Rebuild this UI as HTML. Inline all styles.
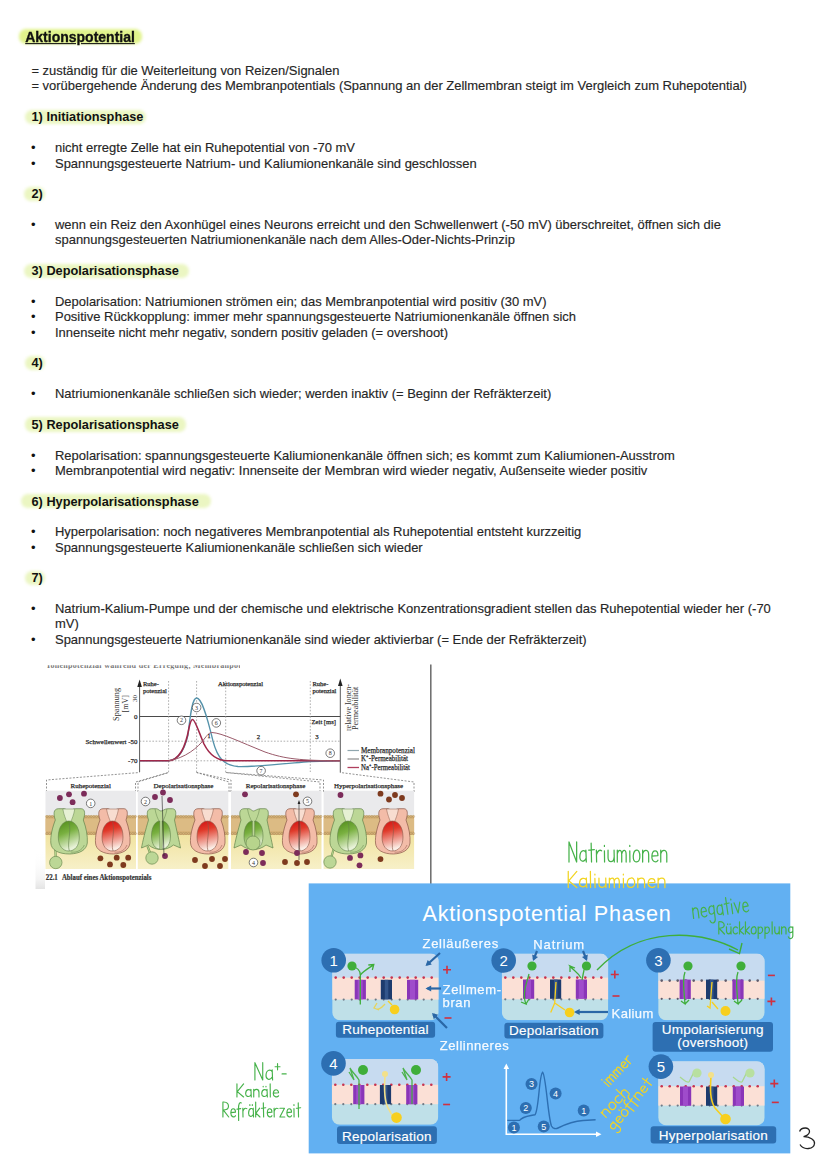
<!DOCTYPE html>
<html><head><meta charset="utf-8">
<style>
html,body{margin:0;padding:0;background:#fff;}
body{width:828px;height:1171px;position:relative;overflow:hidden;font-family:"Liberation Sans",sans-serif;}
.t{position:absolute;left:55px;font-size:12.97px;line-height:16px;color:#262626;white-space:nowrap;-webkit-text-stroke:0.15px #262626;}
.bu{position:absolute;left:31px;font-size:12.97px;line-height:16px;color:#111;}
.h{position:absolute;left:31.5px;font-size:12.75px;line-height:16px;font-weight:bold;color:#111;white-space:nowrap;margin-top:0.5px;}
.hl{position:absolute;height:14.3px;background:#ebf6c2;border-radius:7px;filter:blur(1.6px);}
svg{position:absolute;left:0;top:0;}
</style></head><body>
<div class="hl" style="left:19px;top:29px;width:123px;height:14.5px;background:#e1f38c;"></div>
<div style="position:absolute;left:25.2px;top:27.9px;font-size:14px;line-height:18px;font-weight:bold;color:#111;text-decoration:underline;text-underline-offset:1px;transform:scaleY(1.07);transform-origin:0 13.85px;-webkit-text-stroke:0.3px #111;">Aktionspotential</div>
<div class="t" style="left:31.4px;top:62.71px">= zuständig für die Weiterleitung von Reizen/Signalen</div>
<div class="t" style="left:31.4px;top:78.11px">= vorübergehende Änderung des Membranpotentials (Spannung an der Zellmembran steigt im Vergleich zum Ruhepotential)</div>
<div class="hl" style="top:110.20px;left:25px;width:121px"></div><div class="h" style="top:108.58px">1) Initiationsphase</div>
<div class="bu" style="top:140.33px">&bull;</div>
<div class="t" style="top:140.33px">nicht erregte Zelle hat ein Ruhepotential von -70 mV</div>
<div class="bu" style="top:155.69px">&bull;</div>
<div class="t" style="top:155.69px">Spannungsgesteuerte Natrium- und Kaliumionenkanäle sind geschlossen</div>
<div class="hl" style="top:187.00px;left:24px;width:21px"></div><div class="h" style="top:185.48px">2)</div>
<div class="bu" style="top:217.13px">&bull;</div>
<div class="t" style="top:217.13px">wenn ein Reiz den Axonhügel eines Neurons erreicht und den Schwellenwert (-50 mV) überschreitet, öffnen sich die</div>
<div class="t" style="top:232.49px">spannungsgesteuerten Natriumionenkanäle nach dem Alles-Oder-Nichts-Prinzip</div>
<div class="hl" style="top:263.80px;left:24px;width:165px"></div><div class="h" style="top:262.38px">3) Depolarisationsphase</div>
<div class="bu" style="top:293.93px">&bull;</div>
<div class="t" style="top:293.93px">Depolarisation: Natriumionen strömen ein; das Membranpotential wird positiv (30 mV)</div>
<div class="bu" style="top:309.29px">&bull;</div>
<div class="t" style="top:309.29px">Positive Rückkopplung: immer mehr spannungsgesteuerte Natriumionenkanäle öffnen sich</div>
<div class="bu" style="top:324.65px">&bull;</div>
<div class="t" style="top:324.65px">Innenseite nicht mehr negativ, sondern positiv geladen (= overshoot)</div>
<div class="hl" style="top:355.96px;left:25px;width:20px"></div><div class="h" style="top:354.66px">4)</div>
<div class="bu" style="top:386.09px">&bull;</div>
<div class="t" style="top:386.09px">Natriumionenkanäle schließen sich wieder; werden inaktiv (= Beginn der Refräkterzeit)</div>
<div class="hl" style="top:417.40px;left:25px;width:161px"></div><div class="h" style="top:416.18px">5) Repolarisationsphase</div>
<div class="bu" style="top:447.53px">&bull;</div>
<div class="t" style="top:447.53px">Repolarisation: spannungsgesteuerte Kaliumionenkanäle öffnen sich; es kommt zum Kaliumionen-Ausstrom</div>
<div class="bu" style="top:462.89px">&bull;</div>
<div class="t" style="top:462.89px">Membranpotential wird negativ: Innenseite der Membran wird wieder negativ, Außenseite wieder positiv</div>
<div class="hl" style="top:494.20px;left:21px;width:190px"></div><div class="h" style="top:493.08px">6) Hyperpolarisationsphase</div>
<div class="bu" style="top:524.33px">&bull;</div>
<div class="t" style="top:524.33px">Hyperpolarisation: noch negativeres Membranpotential als Ruhepotential entsteht kurzzeitig</div>
<div class="bu" style="top:539.69px">&bull;</div>
<div class="t" style="top:539.69px">Spannungsgesteuerte Kaliumionenkanäle schließen sich wieder</div>
<div class="hl" style="top:571.00px;left:25px;width:20px"></div><div class="h" style="top:569.98px">7)</div>
<div class="bu" style="top:601.13px">&bull;</div>
<div class="t" style="top:601.13px">Natrium-Kalium-Pumpe und der chemische und elektrische Konzentrationsgradient stellen das Ruhepotential wieder her (-70</div>
<div class="t" style="top:616.49px">mV)</div>
<div class="bu" style="top:631.85px">&bull;</div>
<div class="t" style="top:631.85px">Spannungsgesteuerte Natriumionenkanäle sind wieder aktivierbar (= Ende der Refräkterzeit)</div>
<svg width="828" height="1171" viewBox="0 0 828 1171">
<defs>
<clipPath id="clipTop"><rect x="40" y="665.3" width="200" height="4"/></clipPath>
<linearGradient id="gGreen" x1="0" y1="0" x2="0.3" y2="1"><stop offset="0" stop-color="#4e8a18"/><stop offset="0.45" stop-color="#79b040"/><stop offset="1" stop-color="#e8f2d8"/></linearGradient>
<linearGradient id="gRed" x1="0" y1="0" x2="0.2" y2="1"><stop offset="0.05" stop-color="#d41414"/><stop offset="0.35" stop-color="#e03a2a"/><stop offset="1" stop-color="#fbeee6"/></linearGradient>
<linearGradient id="gShade" x1="0" y1="0" x2="0" y2="1"><stop offset="0" stop-color="#fff" stop-opacity="0"/><stop offset="0.75" stop-color="#f4f4f4"/><stop offset="1" stop-color="#e4e4e4"/></linearGradient>
<linearGradient id="gYel" x1="0" y1="0" x2="0" y2="1"><stop offset="0" stop-color="#f1e3a0"/><stop offset="1" stop-color="#f7f0c8"/></linearGradient>
</defs>
<rect x="35.5" y="850" width="9.5" height="39" fill="url(#gShade)"/>
<g clip-path="url(#clipTop)"><text x="47" y="668" font-size="8" fill="#777" font-family="Liberation Serif" font-weight="bold" letter-spacing="0.3">Ionenpotenzial während der Erregung,  Membranpotenzial</text></g>
<line x1="139.6" y1="684" x2="139.6" y2="772" stroke="#5a5a5a" stroke-width="1"/>
<path d="M137.3 687 L139.6 679.5 L141.9 687 Z" fill="#222"/>
<line x1="340.3" y1="683" x2="340.3" y2="772.6" stroke="#5a5a5a" stroke-width="1"/>
<path d="M338 686 L340.3 678.5 L342.6 686 Z" fill="#222"/>
<line x1="139.6" y1="716.5" x2="340.3" y2="716.5" stroke="#4a4a4a" stroke-width="1"/>
<line x1="139.6" y1="741.2" x2="340" y2="741.2" stroke="#9a9a9a" stroke-width="0.8" stroke-dasharray="1.6 1.6"/>
<line x1="139.6" y1="760.8" x2="340" y2="760.8" stroke="#9a9a9a" stroke-width="0.8" stroke-dasharray="1.6 1.6"/>
<line x1="168.6" y1="681" x2="168.6" y2="772" stroke="#9a9a9a" stroke-width="0.8" stroke-dasharray="1.6 1.6"/>
<line x1="196.6" y1="681" x2="196.6" y2="772" stroke="#9a9a9a" stroke-width="0.8" stroke-dasharray="1.6 1.6"/>
<line x1="225.7" y1="681" x2="225.7" y2="772" stroke="#9a9a9a" stroke-width="0.8" stroke-dasharray="1.6 1.6"/>
<line x1="310.3" y1="681" x2="310.3" y2="772" stroke="#9a9a9a" stroke-width="0.8" stroke-dasharray="1.6 1.6"/>
<path d="M46.5 792 L46.5 780 L139.6 772.5 M135.5 792 L135.5 782 L168.6 772.5" stroke="#777" stroke-width="0.8" stroke-dasharray="2 1.5" fill="none"/>
<path d="M138 792 L138 782 L168.6 772.5 M229 792 L229 782 L196.6 772.5" stroke="#777" stroke-width="0.8" stroke-dasharray="2 1.5" fill="none"/>
<path d="M231 792 L231 780 L196.6 772.5 M320 792 L320 782 L225.7 772.5" stroke="#777" stroke-width="0.8" stroke-dasharray="2 1.5" fill="none"/>
<path d="M323.5 792 L323.5 780 L225.7 772.5 M414 792 L414 782 L340.3 772.5" stroke="#777" stroke-width="0.8" stroke-dasharray="2 1.5" fill="none"/>
<path d="M139.6 760.8 L168.6 760.8 C178 760 184 752 188 735 C190.5 712 192.5 698 196.6 698 C201.5 698 206.5 714 213 741 C217.5 758 224 765.5 238 766.5 C255 767 282 764 310 761.5 L340 760.8" fill="none" stroke="#5592aa" stroke-width="1.3"/>
<path d="M139.6 760.8 L168.6 760.8 C180 760 186 745 189 728 C190.5 721 191.5 719.5 192.6 719.5 C195 719.5 198 730 204 744 C210 756 218 760.8 228 760.8 L340 760.8" fill="none" stroke="#a0284a" stroke-width="1.6"/>
<path d="M168.6 760.8 C185 758 198 748 205 738 C208 734 210 732.5 212 732.5 C222 733 240 742 265 752 C285 759 300 760.5 340 760.8" fill="none" stroke="#9a5a6a" stroke-width="1"/>
<text x="143" y="685.5" font-size="6.5" fill="#2a2a2a" stroke="#2a2a2a" stroke-width="0.25" font-family="Liberation Serif" text-anchor="start" >Ruhe-</text>
<text x="143" y="692.5" font-size="6.5" fill="#2a2a2a" stroke="#2a2a2a" stroke-width="0.25" font-family="Liberation Serif" text-anchor="start" >potenzial</text>
<text x="218" y="685.7" font-size="6.6" fill="#2a2a2a" stroke="#2a2a2a" stroke-width="0.25" font-family="Liberation Serif" text-anchor="start" >Aktionspotenzial</text>
<text x="312.5" y="685.5" font-size="6.5" fill="#2a2a2a" stroke="#2a2a2a" stroke-width="0.25" font-family="Liberation Serif" text-anchor="start" >Ruhe-</text>
<text x="312.5" y="692.5" font-size="6.5" fill="#2a2a2a" stroke="#2a2a2a" stroke-width="0.25" font-family="Liberation Serif" text-anchor="start" >potenzial</text>
<text transform="translate(136.5,702) rotate(-90)" font-size="7" fill="#333" font-family="Liberation Serif">30</text>
<text x="137.5" y="719" font-size="7" fill="#2a2a2a" stroke="#2a2a2a" stroke-width="0.25" font-family="Liberation Serif" text-anchor="end" >0</text>
<text x="137.4" y="743.8" font-size="6.9" fill="#2a2a2a" stroke="#2a2a2a" stroke-width="0.25" font-family="Liberation Serif" text-anchor="end" >Schwellenwert -50</text>
<text x="137.4" y="763.2" font-size="7" fill="#2a2a2a" stroke="#2a2a2a" stroke-width="0.25" font-family="Liberation Serif" text-anchor="end" >-70</text>
<text transform="translate(119,720.9) rotate(-90)" font-size="8" fill="#333" font-family="Liberation Serif" textLength="33" lengthAdjust="spacingAndGlyphs">Spannung</text>
<text transform="translate(127.5,712.4) rotate(-90)" font-size="8" fill="#333" font-family="Liberation Serif">[mV]</text>
<text transform="translate(350.5,731.1) rotate(-90)" font-size="8" fill="#333" font-family="Liberation Serif" textLength="47" lengthAdjust="spacingAndGlyphs">relative Ionen-</text>
<text transform="translate(357.7,730.1) rotate(-90)" font-size="8" fill="#333" font-family="Liberation Serif" textLength="43.4" lengthAdjust="spacingAndGlyphs">Permeabilität</text>
<text x="311.6" y="724" font-size="6.6" fill="#2a2a2a" stroke="#2a2a2a" stroke-width="0.25" font-family="Liberation Serif" text-anchor="start" >Zeit [ms]</text>
<text x="258.4" y="738.5" font-size="6.8" fill="#2a2a2a" stroke="#2a2a2a" stroke-width="0.25" font-family="Liberation Serif" text-anchor="middle" >2</text>
<text x="316.9" y="738.5" font-size="6.8" fill="#2a2a2a" stroke="#2a2a2a" stroke-width="0.25" font-family="Liberation Serif" text-anchor="middle" >3</text>
<line x1="347.5" y1="750.5" x2="359" y2="750.5" stroke="#8fa6ae" stroke-width="1.2"/>
<line x1="347.5" y1="759" x2="359" y2="759" stroke="#808080" stroke-width="1.1"/>
<line x1="347.5" y1="767.5" x2="359" y2="767.5" stroke="#b0405e" stroke-width="1.3"/>
<text x="361" y="752.8" font-size="8" fill="#2a2a2a" stroke="#2a2a2a" stroke-width="0.25" font-family="Liberation Serif" text-anchor="start" textLength="54" lengthAdjust="spacingAndGlyphs">Membranpotenzial</text>
<text x="361" y="761.3" font-size="8" fill="#2a2a2a" stroke="#2a2a2a" stroke-width="0.25" font-family="Liberation Serif" text-anchor="start" textLength="47" lengthAdjust="spacingAndGlyphs">K⁺-Permeabilität</text>
<text x="361" y="769.8" font-size="8" fill="#2a2a2a" stroke="#2a2a2a" stroke-width="0.25" font-family="Liberation Serif" text-anchor="start" textLength="49" lengthAdjust="spacingAndGlyphs">Na⁺-Permeabilität</text>
<circle cx="181.5" cy="720.3" r="4.3" fill="#fff" stroke="#444" stroke-width="0.7"/>
<text x="181.5" y="722.4" font-size="6" fill="#333" font-family="Liberation Serif" text-anchor="middle">2</text>
<circle cx="196.6" cy="707.5" r="4.3" fill="#fff" stroke="#444" stroke-width="0.7"/>
<text x="196.6" y="709.6" font-size="6" fill="#333" font-family="Liberation Serif" text-anchor="middle">3</text>
<circle cx="216.3" cy="722.9" r="4.3" fill="#fff" stroke="#444" stroke-width="0.7"/>
<text x="216.3" y="725.0" font-size="6" fill="#333" font-family="Liberation Serif" text-anchor="middle">6</text>
<circle cx="330.2" cy="753.2" r="4.3" fill="#fff" stroke="#444" stroke-width="0.7"/>
<text x="330.2" y="755.3000000000001" font-size="6" fill="#333" font-family="Liberation Serif" text-anchor="middle">8</text>
<circle cx="261.1" cy="770.7" r="4.3" fill="#fff" stroke="#444" stroke-width="0.7"/>
<text x="261.1" y="772.8000000000001" font-size="6" fill="#333" font-family="Liberation Serif" text-anchor="middle">7</text>
<text x="209" y="738" font-size="6" fill="#2a2a2a" stroke="#2a2a2a" stroke-width="0.25" font-family="Liberation Serif" text-anchor="middle" >1</text>
<text x="90.7" y="788.3" font-size="7" fill="#2a2a2a" stroke="#2a2a2a" stroke-width="0.25" font-family="Liberation Serif" text-anchor="middle" >Ruhepotenzial</text>
<text x="183.5" y="788.3" font-size="7" fill="#2a2a2a" stroke="#2a2a2a" stroke-width="0.25" font-family="Liberation Serif" text-anchor="middle" >Depolarisationsphase</text>
<text x="275.5" y="788.3" font-size="7" fill="#2a2a2a" stroke="#2a2a2a" stroke-width="0.25" font-family="Liberation Serif" text-anchor="middle" >Repolarisationsphase</text>
<text x="368.5" y="788.3" font-size="7" fill="#2a2a2a" stroke="#2a2a2a" stroke-width="0.25" font-family="Liberation Serif" text-anchor="middle" >Hyperpolarisationsphase</text>
<text x="45.8" y="879.5" font-size="7.2" fill="#333" stroke="#333" stroke-width="0.2" font-weight="bold" font-family="Liberation Serif" textLength="12" lengthAdjust="spacingAndGlyphs">22.1</text>
<text x="61.9" y="879.5" font-size="7.2" fill="#333" stroke="#333" stroke-width="0.2" font-weight="bold" font-family="Liberation Serif" textLength="89.5" lengthAdjust="spacingAndGlyphs">Ablauf eines Aktionspotenzials</text>
<rect x="45.5" y="790.7" width="90.5" height="25" fill="#eaeaec"/>
<rect x="45.5" y="834.5" width="90.5" height="34.5" fill="url(#gYel)"/>
<rect x="45.5" y="815.5" width="90.5" height="19.5" fill="#d8b378"/>
<g fill="none" stroke="#a88a58" stroke-width="0.5"><circle cx="47.0" cy="816.5" r="1.1"/><circle cx="47.0" cy="833.5" r="1.1"/><circle cx="49.6" cy="816.5" r="1.1"/><circle cx="49.6" cy="833.5" r="1.1"/><circle cx="52.2" cy="816.5" r="1.1"/><circle cx="52.2" cy="833.5" r="1.1"/><circle cx="54.8" cy="816.5" r="1.1"/><circle cx="54.8" cy="833.5" r="1.1"/><circle cx="57.4" cy="816.5" r="1.1"/><circle cx="57.4" cy="833.5" r="1.1"/><circle cx="60.0" cy="816.5" r="1.1"/><circle cx="60.0" cy="833.5" r="1.1"/><circle cx="62.6" cy="816.5" r="1.1"/><circle cx="62.6" cy="833.5" r="1.1"/><circle cx="65.2" cy="816.5" r="1.1"/><circle cx="65.2" cy="833.5" r="1.1"/><circle cx="67.8" cy="816.5" r="1.1"/><circle cx="67.8" cy="833.5" r="1.1"/><circle cx="70.4" cy="816.5" r="1.1"/><circle cx="70.4" cy="833.5" r="1.1"/><circle cx="73.0" cy="816.5" r="1.1"/><circle cx="73.0" cy="833.5" r="1.1"/><circle cx="75.6" cy="816.5" r="1.1"/><circle cx="75.6" cy="833.5" r="1.1"/><circle cx="78.2" cy="816.5" r="1.1"/><circle cx="78.2" cy="833.5" r="1.1"/><circle cx="80.8" cy="816.5" r="1.1"/><circle cx="80.8" cy="833.5" r="1.1"/><circle cx="83.4" cy="816.5" r="1.1"/><circle cx="83.4" cy="833.5" r="1.1"/><circle cx="86.0" cy="816.5" r="1.1"/><circle cx="86.0" cy="833.5" r="1.1"/><circle cx="88.6" cy="816.5" r="1.1"/><circle cx="88.6" cy="833.5" r="1.1"/><circle cx="91.2" cy="816.5" r="1.1"/><circle cx="91.2" cy="833.5" r="1.1"/><circle cx="93.8" cy="816.5" r="1.1"/><circle cx="93.8" cy="833.5" r="1.1"/><circle cx="96.4" cy="816.5" r="1.1"/><circle cx="96.4" cy="833.5" r="1.1"/><circle cx="99.0" cy="816.5" r="1.1"/><circle cx="99.0" cy="833.5" r="1.1"/><circle cx="101.6" cy="816.5" r="1.1"/><circle cx="101.6" cy="833.5" r="1.1"/><circle cx="104.2" cy="816.5" r="1.1"/><circle cx="104.2" cy="833.5" r="1.1"/><circle cx="106.8" cy="816.5" r="1.1"/><circle cx="106.8" cy="833.5" r="1.1"/><circle cx="109.4" cy="816.5" r="1.1"/><circle cx="109.4" cy="833.5" r="1.1"/><circle cx="112.0" cy="816.5" r="1.1"/><circle cx="112.0" cy="833.5" r="1.1"/><circle cx="114.6" cy="816.5" r="1.1"/><circle cx="114.6" cy="833.5" r="1.1"/><circle cx="117.2" cy="816.5" r="1.1"/><circle cx="117.2" cy="833.5" r="1.1"/><circle cx="119.8" cy="816.5" r="1.1"/><circle cx="119.8" cy="833.5" r="1.1"/><circle cx="122.4" cy="816.5" r="1.1"/><circle cx="122.4" cy="833.5" r="1.1"/><circle cx="125.0" cy="816.5" r="1.1"/><circle cx="125.0" cy="833.5" r="1.1"/><circle cx="127.6" cy="816.5" r="1.1"/><circle cx="127.6" cy="833.5" r="1.1"/><circle cx="130.2" cy="816.5" r="1.1"/><circle cx="130.2" cy="833.5" r="1.1"/><circle cx="132.8" cy="816.5" r="1.1"/><circle cx="132.8" cy="833.5" r="1.1"/><circle cx="135.4" cy="816.5" r="1.1"/><circle cx="135.4" cy="833.5" r="1.1"/></g>
<rect x="45.5" y="819" width="90.5" height="12" fill="#dfc08c" opacity="0.6"/>
<rect x="137.8" y="790.7" width="90.5" height="25" fill="#eaeaec"/>
<rect x="137.8" y="834.5" width="90.5" height="34.5" fill="url(#gYel)"/>
<rect x="137.8" y="815.5" width="90.5" height="19.5" fill="#d8b378"/>
<g fill="none" stroke="#a88a58" stroke-width="0.5"><circle cx="139.3" cy="816.5" r="1.1"/><circle cx="139.3" cy="833.5" r="1.1"/><circle cx="141.9" cy="816.5" r="1.1"/><circle cx="141.9" cy="833.5" r="1.1"/><circle cx="144.5" cy="816.5" r="1.1"/><circle cx="144.5" cy="833.5" r="1.1"/><circle cx="147.1" cy="816.5" r="1.1"/><circle cx="147.1" cy="833.5" r="1.1"/><circle cx="149.7" cy="816.5" r="1.1"/><circle cx="149.7" cy="833.5" r="1.1"/><circle cx="152.3" cy="816.5" r="1.1"/><circle cx="152.3" cy="833.5" r="1.1"/><circle cx="154.9" cy="816.5" r="1.1"/><circle cx="154.9" cy="833.5" r="1.1"/><circle cx="157.5" cy="816.5" r="1.1"/><circle cx="157.5" cy="833.5" r="1.1"/><circle cx="160.1" cy="816.5" r="1.1"/><circle cx="160.1" cy="833.5" r="1.1"/><circle cx="162.7" cy="816.5" r="1.1"/><circle cx="162.7" cy="833.5" r="1.1"/><circle cx="165.3" cy="816.5" r="1.1"/><circle cx="165.3" cy="833.5" r="1.1"/><circle cx="167.9" cy="816.5" r="1.1"/><circle cx="167.9" cy="833.5" r="1.1"/><circle cx="170.5" cy="816.5" r="1.1"/><circle cx="170.5" cy="833.5" r="1.1"/><circle cx="173.1" cy="816.5" r="1.1"/><circle cx="173.1" cy="833.5" r="1.1"/><circle cx="175.7" cy="816.5" r="1.1"/><circle cx="175.7" cy="833.5" r="1.1"/><circle cx="178.3" cy="816.5" r="1.1"/><circle cx="178.3" cy="833.5" r="1.1"/><circle cx="180.9" cy="816.5" r="1.1"/><circle cx="180.9" cy="833.5" r="1.1"/><circle cx="183.5" cy="816.5" r="1.1"/><circle cx="183.5" cy="833.5" r="1.1"/><circle cx="186.1" cy="816.5" r="1.1"/><circle cx="186.1" cy="833.5" r="1.1"/><circle cx="188.7" cy="816.5" r="1.1"/><circle cx="188.7" cy="833.5" r="1.1"/><circle cx="191.3" cy="816.5" r="1.1"/><circle cx="191.3" cy="833.5" r="1.1"/><circle cx="193.9" cy="816.5" r="1.1"/><circle cx="193.9" cy="833.5" r="1.1"/><circle cx="196.5" cy="816.5" r="1.1"/><circle cx="196.5" cy="833.5" r="1.1"/><circle cx="199.1" cy="816.5" r="1.1"/><circle cx="199.1" cy="833.5" r="1.1"/><circle cx="201.7" cy="816.5" r="1.1"/><circle cx="201.7" cy="833.5" r="1.1"/><circle cx="204.3" cy="816.5" r="1.1"/><circle cx="204.3" cy="833.5" r="1.1"/><circle cx="206.9" cy="816.5" r="1.1"/><circle cx="206.9" cy="833.5" r="1.1"/><circle cx="209.5" cy="816.5" r="1.1"/><circle cx="209.5" cy="833.5" r="1.1"/><circle cx="212.1" cy="816.5" r="1.1"/><circle cx="212.1" cy="833.5" r="1.1"/><circle cx="214.7" cy="816.5" r="1.1"/><circle cx="214.7" cy="833.5" r="1.1"/><circle cx="217.3" cy="816.5" r="1.1"/><circle cx="217.3" cy="833.5" r="1.1"/><circle cx="219.9" cy="816.5" r="1.1"/><circle cx="219.9" cy="833.5" r="1.1"/><circle cx="222.5" cy="816.5" r="1.1"/><circle cx="222.5" cy="833.5" r="1.1"/><circle cx="225.1" cy="816.5" r="1.1"/><circle cx="225.1" cy="833.5" r="1.1"/><circle cx="227.7" cy="816.5" r="1.1"/><circle cx="227.7" cy="833.5" r="1.1"/></g>
<rect x="137.8" y="819" width="90.5" height="12" fill="#dfc08c" opacity="0.6"/>
<rect x="231" y="790.7" width="90.5" height="25" fill="#eaeaec"/>
<rect x="231" y="834.5" width="90.5" height="34.5" fill="url(#gYel)"/>
<rect x="231" y="815.5" width="90.5" height="19.5" fill="#d8b378"/>
<g fill="none" stroke="#a88a58" stroke-width="0.5"><circle cx="232.5" cy="816.5" r="1.1"/><circle cx="232.5" cy="833.5" r="1.1"/><circle cx="235.1" cy="816.5" r="1.1"/><circle cx="235.1" cy="833.5" r="1.1"/><circle cx="237.7" cy="816.5" r="1.1"/><circle cx="237.7" cy="833.5" r="1.1"/><circle cx="240.3" cy="816.5" r="1.1"/><circle cx="240.3" cy="833.5" r="1.1"/><circle cx="242.9" cy="816.5" r="1.1"/><circle cx="242.9" cy="833.5" r="1.1"/><circle cx="245.5" cy="816.5" r="1.1"/><circle cx="245.5" cy="833.5" r="1.1"/><circle cx="248.1" cy="816.5" r="1.1"/><circle cx="248.1" cy="833.5" r="1.1"/><circle cx="250.7" cy="816.5" r="1.1"/><circle cx="250.7" cy="833.5" r="1.1"/><circle cx="253.3" cy="816.5" r="1.1"/><circle cx="253.3" cy="833.5" r="1.1"/><circle cx="255.9" cy="816.5" r="1.1"/><circle cx="255.9" cy="833.5" r="1.1"/><circle cx="258.5" cy="816.5" r="1.1"/><circle cx="258.5" cy="833.5" r="1.1"/><circle cx="261.1" cy="816.5" r="1.1"/><circle cx="261.1" cy="833.5" r="1.1"/><circle cx="263.7" cy="816.5" r="1.1"/><circle cx="263.7" cy="833.5" r="1.1"/><circle cx="266.3" cy="816.5" r="1.1"/><circle cx="266.3" cy="833.5" r="1.1"/><circle cx="268.9" cy="816.5" r="1.1"/><circle cx="268.9" cy="833.5" r="1.1"/><circle cx="271.5" cy="816.5" r="1.1"/><circle cx="271.5" cy="833.5" r="1.1"/><circle cx="274.1" cy="816.5" r="1.1"/><circle cx="274.1" cy="833.5" r="1.1"/><circle cx="276.7" cy="816.5" r="1.1"/><circle cx="276.7" cy="833.5" r="1.1"/><circle cx="279.3" cy="816.5" r="1.1"/><circle cx="279.3" cy="833.5" r="1.1"/><circle cx="281.9" cy="816.5" r="1.1"/><circle cx="281.9" cy="833.5" r="1.1"/><circle cx="284.5" cy="816.5" r="1.1"/><circle cx="284.5" cy="833.5" r="1.1"/><circle cx="287.1" cy="816.5" r="1.1"/><circle cx="287.1" cy="833.5" r="1.1"/><circle cx="289.7" cy="816.5" r="1.1"/><circle cx="289.7" cy="833.5" r="1.1"/><circle cx="292.3" cy="816.5" r="1.1"/><circle cx="292.3" cy="833.5" r="1.1"/><circle cx="294.9" cy="816.5" r="1.1"/><circle cx="294.9" cy="833.5" r="1.1"/><circle cx="297.5" cy="816.5" r="1.1"/><circle cx="297.5" cy="833.5" r="1.1"/><circle cx="300.1" cy="816.5" r="1.1"/><circle cx="300.1" cy="833.5" r="1.1"/><circle cx="302.7" cy="816.5" r="1.1"/><circle cx="302.7" cy="833.5" r="1.1"/><circle cx="305.3" cy="816.5" r="1.1"/><circle cx="305.3" cy="833.5" r="1.1"/><circle cx="307.9" cy="816.5" r="1.1"/><circle cx="307.9" cy="833.5" r="1.1"/><circle cx="310.5" cy="816.5" r="1.1"/><circle cx="310.5" cy="833.5" r="1.1"/><circle cx="313.1" cy="816.5" r="1.1"/><circle cx="313.1" cy="833.5" r="1.1"/><circle cx="315.7" cy="816.5" r="1.1"/><circle cx="315.7" cy="833.5" r="1.1"/><circle cx="318.3" cy="816.5" r="1.1"/><circle cx="318.3" cy="833.5" r="1.1"/><circle cx="320.9" cy="816.5" r="1.1"/><circle cx="320.9" cy="833.5" r="1.1"/></g>
<rect x="231" y="819" width="90.5" height="12" fill="#dfc08c" opacity="0.6"/>
<rect x="323.6" y="790.7" width="90.5" height="25" fill="#eaeaec"/>
<rect x="323.6" y="834.5" width="90.5" height="34.5" fill="url(#gYel)"/>
<rect x="323.6" y="815.5" width="90.5" height="19.5" fill="#d8b378"/>
<g fill="none" stroke="#a88a58" stroke-width="0.5"><circle cx="325.1" cy="816.5" r="1.1"/><circle cx="325.1" cy="833.5" r="1.1"/><circle cx="327.7" cy="816.5" r="1.1"/><circle cx="327.7" cy="833.5" r="1.1"/><circle cx="330.3" cy="816.5" r="1.1"/><circle cx="330.3" cy="833.5" r="1.1"/><circle cx="332.9" cy="816.5" r="1.1"/><circle cx="332.9" cy="833.5" r="1.1"/><circle cx="335.5" cy="816.5" r="1.1"/><circle cx="335.5" cy="833.5" r="1.1"/><circle cx="338.1" cy="816.5" r="1.1"/><circle cx="338.1" cy="833.5" r="1.1"/><circle cx="340.7" cy="816.5" r="1.1"/><circle cx="340.7" cy="833.5" r="1.1"/><circle cx="343.3" cy="816.5" r="1.1"/><circle cx="343.3" cy="833.5" r="1.1"/><circle cx="345.9" cy="816.5" r="1.1"/><circle cx="345.9" cy="833.5" r="1.1"/><circle cx="348.5" cy="816.5" r="1.1"/><circle cx="348.5" cy="833.5" r="1.1"/><circle cx="351.1" cy="816.5" r="1.1"/><circle cx="351.1" cy="833.5" r="1.1"/><circle cx="353.7" cy="816.5" r="1.1"/><circle cx="353.7" cy="833.5" r="1.1"/><circle cx="356.3" cy="816.5" r="1.1"/><circle cx="356.3" cy="833.5" r="1.1"/><circle cx="358.9" cy="816.5" r="1.1"/><circle cx="358.9" cy="833.5" r="1.1"/><circle cx="361.5" cy="816.5" r="1.1"/><circle cx="361.5" cy="833.5" r="1.1"/><circle cx="364.1" cy="816.5" r="1.1"/><circle cx="364.1" cy="833.5" r="1.1"/><circle cx="366.7" cy="816.5" r="1.1"/><circle cx="366.7" cy="833.5" r="1.1"/><circle cx="369.3" cy="816.5" r="1.1"/><circle cx="369.3" cy="833.5" r="1.1"/><circle cx="371.9" cy="816.5" r="1.1"/><circle cx="371.9" cy="833.5" r="1.1"/><circle cx="374.5" cy="816.5" r="1.1"/><circle cx="374.5" cy="833.5" r="1.1"/><circle cx="377.1" cy="816.5" r="1.1"/><circle cx="377.1" cy="833.5" r="1.1"/><circle cx="379.7" cy="816.5" r="1.1"/><circle cx="379.7" cy="833.5" r="1.1"/><circle cx="382.3" cy="816.5" r="1.1"/><circle cx="382.3" cy="833.5" r="1.1"/><circle cx="384.9" cy="816.5" r="1.1"/><circle cx="384.9" cy="833.5" r="1.1"/><circle cx="387.5" cy="816.5" r="1.1"/><circle cx="387.5" cy="833.5" r="1.1"/><circle cx="390.1" cy="816.5" r="1.1"/><circle cx="390.1" cy="833.5" r="1.1"/><circle cx="392.7" cy="816.5" r="1.1"/><circle cx="392.7" cy="833.5" r="1.1"/><circle cx="395.3" cy="816.5" r="1.1"/><circle cx="395.3" cy="833.5" r="1.1"/><circle cx="397.9" cy="816.5" r="1.1"/><circle cx="397.9" cy="833.5" r="1.1"/><circle cx="400.5" cy="816.5" r="1.1"/><circle cx="400.5" cy="833.5" r="1.1"/><circle cx="403.1" cy="816.5" r="1.1"/><circle cx="403.1" cy="833.5" r="1.1"/><circle cx="405.7" cy="816.5" r="1.1"/><circle cx="405.7" cy="833.5" r="1.1"/><circle cx="408.3" cy="816.5" r="1.1"/><circle cx="408.3" cy="833.5" r="1.1"/><circle cx="410.9" cy="816.5" r="1.1"/><circle cx="410.9" cy="833.5" r="1.1"/><circle cx="413.5" cy="816.5" r="1.1"/><circle cx="413.5" cy="833.5" r="1.1"/></g>
<rect x="323.6" y="819" width="90.5" height="12" fill="#dfc08c" opacity="0.6"/>
<line x1="55.3" y1="846" x2="55.8" y2="862.5" stroke="#7a9a5a" stroke-width="2.2"/><line x1="55.3" y1="846" x2="55.8" y2="862.5" stroke="#b7d48c" stroke-width="1.0"/><circle cx="55.8" cy="862.5" r="6.2" fill="#bcd796" stroke="#6d8c52" stroke-width="0.7"/><path d="M55.3 820 C53.3 814 53.3 809 58.3 808.7 L64.3 808.7 C66.3 809 67.3 811 68.8 811 C70.3 811 72.3 809 75.3 808.7 L81.3 808.7 C85.3 809 85.3 814 83.3 820 C86.3 828 87.8 836 87.3 843 C86.3 850 80.3 853.5 69.8 854 C58.3 854 51.3 850 50.8 843 C50.3 836 52.3 828 55.3 820 Z" fill="#bcd796" stroke="#62824a" stroke-width="0.7"/><path d="M62.8 809 C63.8 815 65.8 819 66.8 822 L70.8 822 C71.8 819 73.8 815 74.8 809 Z" fill="#e6f0d4" stroke="#62824a" stroke-width="0.5"/><path d="M58.3 837 C58.3 826 63.8 821 68.8 821 C73.8 821 79.3 826 79.3 837 C79.3 846 74.8 851 68.8 851 C62.8 851 58.3 846 58.3 837 Z" fill="url(#gGreen)" stroke="#62824a" stroke-width="0.6"/><path d="M68.8 821.5 C71.8 832 66.8 842 69.3 851" stroke="#62824a" stroke-width="0.6" fill="none"/><path d="M70.8 852 C76.8 853 82.3 850 84.3 845" stroke="#62824a" stroke-width="0.5" fill="none"/>
<path d="M100 820 C98 814 98 809 103 808.7 L108.0 808.7 C110.0 809 111.0 811 112.5 811 C114.0 811 116.0 809 119.0 808.7 L124 808.7 C128 809 128 814 126 820 C129 828 130.5 836 130 843 C129 850 123 853.5 113.5 854 C103 854 96 850 95.5 843 C95 836 97 828 100 820 Z" fill="#f3bca8" stroke="#8a5848" stroke-width="0.7"/><path d="M106.5 809 C107.5 815 109.5 819 110.5 822 L114.5 822 C115.5 819 117.5 815 118.5 809 Z" fill="#f8ddd0" stroke="#8a5848" stroke-width="0.5"/><path d="M102.0 837 C102.0 826 107.5 821 112.5 821 C117.5 821 123.0 826 123.0 837 C123.0 846 118.5 851 112.5 851 C106.5 851 102.0 846 102.0 837 Z" fill="url(#gRed)" stroke="#8a5848" stroke-width="0.6"/><path d="M112.5 821.5 C115.5 832 110.5 842 113.0 851" stroke="#8a5848" stroke-width="0.6" fill="none"/><path d="M114.5 852 C120.5 853 125 850 127 845" stroke="#8a5848" stroke-width="0.5" fill="none"/>
<circle cx="59.9" cy="798" r="2.9" fill="#7c2c5a"/><circle cx="69" cy="794.3" r="2.9" fill="#7c2c5a"/><circle cx="72.6" cy="802.2" r="2.9" fill="#7c2c5a"/><circle cx="84" cy="793.7" r="2.9" fill="#7c2c5a"/>
<circle cx="100.4" cy="858.3" r="2.9" fill="#7e3a1e"/><circle cx="116.7" cy="857.7" r="2.9" fill="#7e3a1e"/><circle cx="128.2" cy="857.7" r="2.9" fill="#7e3a1e"/><circle cx="110" cy="864.4" r="2.9" fill="#7e3a1e"/><circle cx="123.3" cy="865" r="2.9" fill="#7e3a1e"/>
<circle cx="90.7" cy="803.4" r="4.3" fill="#fff" stroke="#444" stroke-width="0.7"/>
<text x="90.7" y="805.5" font-size="6" fill="#333" font-family="Liberation Serif" text-anchor="middle">1</text>
<line x1="147.5" y1="846" x2="152" y2="858" stroke="#7a9a5a" stroke-width="2.2"/><line x1="147.5" y1="846" x2="152" y2="858" stroke="#b7d48c" stroke-width="1.0"/><circle cx="152" cy="858" r="6.2" fill="#bcd796" stroke="#6d8c52" stroke-width="0.7"/><path d="M148.5 820 C146.5 814 146.5 809 151.5 808.7 L156.5 808.7 C158.5 809 159.5 811 161.0 811 C162.5 811 164.5 809 167.5 808.7 L172.5 808.7 C176.5 809 176.5 814 174.5 820 C176.5 830 179.5 842 180.5 848 L173.5 845 C166.0 851 156.0 851 148.5 845 L141.5 848 C142.5 842 145.5 830 148.5 820 Z" fill="#bcd796" stroke="#62824a" stroke-width="0.7"/><path d="M151.5 836 C151.5 826 156.0 821 159.8 821 L159.8 849 C155.0 849 151.5 844 151.5 836 Z M170.5 836 C170.5 826 166.0 821 162.2 821 L162.2 849 C167.0 849 170.5 844 170.5 836 Z" fill="url(#gGreen)" stroke="#62824a" stroke-width="0.6"/><path d="M155.0 809 C156.0 815 158.0 819 159.5 822 M167.0 809 C166.0 815 164.0 819 162.5 822" stroke="#62824a" stroke-width="0.5" fill="none"/>
<path d="M195 820 C193 814 193 809 198 808.7 L203.0 808.7 C205.0 809 206.0 811 207.5 811 C209.0 811 211.0 809 214.0 808.7 L219 808.7 C223 809 223 814 221 820 C224 828 225.5 836 225 843 C224 850 218 853.5 208.5 854 C198 854 191 850 190.5 843 C190 836 192 828 195 820 Z" fill="#f3bca8" stroke="#8a5848" stroke-width="0.7"/><path d="M201.5 809 C202.5 815 204.5 819 205.5 822 L209.5 822 C210.5 819 212.5 815 213.5 809 Z" fill="#f8ddd0" stroke="#8a5848" stroke-width="0.5"/><path d="M197.0 837 C197.0 826 202.5 821 207.5 821 C212.5 821 218.0 826 218.0 837 C218.0 846 213.5 851 207.5 851 C201.5 851 197.0 846 197.0 837 Z" fill="url(#gRed)" stroke="#8a5848" stroke-width="0.6"/><path d="M207.5 821.5 C210.5 832 205.5 842 208.0 851" stroke="#8a5848" stroke-width="0.6" fill="none"/><path d="M209.5 852 C215.5 853 220 850 222 845" stroke="#8a5848" stroke-width="0.5" fill="none"/>
<circle cx="155" cy="797" r="2.9" fill="#7c2c5a"/><circle cx="163" cy="792.5" r="2.9" fill="#7c2c5a"/><circle cx="170" cy="800" r="2.9" fill="#7c2c5a"/>
<circle cx="165" cy="856" r="2.9" fill="#7c2c5a"/>
<line x1="162" y1="796" x2="164" y2="856" stroke="#222" stroke-width="0.6"/>
<circle cx="195" cy="860" r="2.9" fill="#7e3a1e"/><circle cx="205" cy="866" r="2.9" fill="#7e3a1e"/><circle cx="212" cy="859" r="2.9" fill="#7e3a1e"/><circle cx="220" cy="866" r="2.9" fill="#7e3a1e"/><circle cx="225" cy="859" r="2.9" fill="#7e3a1e"/>
<circle cx="145.5" cy="801.5" r="4.3" fill="#fff" stroke="#444" stroke-width="0.7"/>
<text x="145.5" y="803.6" font-size="6" fill="#333" font-family="Liberation Serif" text-anchor="middle">2</text>
<path d="M241 820 C239 814 239 809 244 808.7 L249.0 808.7 C251.0 809 252.0 811 253.5 811 C255.0 811 257.0 809 260.0 808.7 L265 808.7 C269 809 269 814 267 820 C269 830 272 842 273 848 L266 845 C258.5 851 248.5 851 241 845 L234 848 C235 842 238 830 241 820 Z" fill="#bcd796" stroke="#62824a" stroke-width="0.7"/><path d="M244.0 836 C244.0 826 248.5 821 252.3 821 L252.3 849 C247.5 849 244.0 844 244.0 836 Z M263.0 836 C263.0 826 258.5 821 254.7 821 L254.7 849 C259.5 849 263.0 844 263.0 836 Z" fill="url(#gGreen)" stroke="#62824a" stroke-width="0.6"/><path d="M247.5 809 C248.5 815 250.5 819 252.0 822 M259.5 809 C258.5 815 256.5 819 255.0 822" stroke="#62824a" stroke-width="0.5" fill="none"/>
<circle cx="253" cy="843" r="7" fill="#b7d48c" stroke="#6d8c52" stroke-width="0.7"/>
<path d="M287 820 C285 814 285 809 290 808.7 L295.0 808.7 C297.0 809 298.0 811 299.5 811 C301.0 811 303.0 809 306.0 808.7 L311 808.7 C315 809 315 814 313 820 C316 828 317.5 836 317 843 C316 850 310 853.5 300.5 854 C290 854 283 850 282.5 843 C282 836 284 828 287 820 Z" fill="#f3bca8" stroke="#8a5848" stroke-width="0.7"/><path d="M293.5 809 C294.5 815 296.5 819 297.5 822 L301.5 822 C302.5 819 304.5 815 305.5 809 Z" fill="#f8ddd0" stroke="#8a5848" stroke-width="0.5"/><path d="M289.0 837 C289.0 826 294.5 821 299.5 821 C304.5 821 310.0 826 310.0 837 C310.0 846 305.5 851 299.5 851 C293.5 851 289.0 846 289.0 837 Z" fill="url(#gRed)" stroke="#8a5848" stroke-width="0.6"/><path d="M299.5 821.5 C302.5 832 297.5 842 300.0 851" stroke="#8a5848" stroke-width="0.6" fill="none"/><path d="M301.5 852 C307.5 853 312 850 314 845" stroke="#8a5848" stroke-width="0.5" fill="none"/>
<circle cx="245" cy="794.3" r="2.9" fill="#7c2c5a"/>
<circle cx="296" cy="794.3" r="2.9" fill="#7e3a1e"/>
<line x1="299" y1="860" x2="299" y2="802" stroke="#222" stroke-width="0.6"/><path d="M297.6 804 L299 800 L300.4 804Z" fill="#222"/>
<circle cx="246" cy="852" r="2.9" fill="#7c2c5a"/><circle cx="262" cy="853" r="2.9" fill="#7c2c5a"/><circle cx="263" cy="863" r="2.9" fill="#7c2c5a"/><circle cx="297" cy="853" r="2.9" fill="#7c2c5a"/>
<circle cx="285" cy="862" r="2.9" fill="#7e3a1e"/><circle cx="297" cy="863" r="2.9" fill="#7e3a1e"/><circle cx="307" cy="862" r="2.9" fill="#7e3a1e"/>
<circle cx="307.5" cy="801.3" r="4.3" fill="#fff" stroke="#444" stroke-width="0.7"/>
<text x="307.5" y="803.4" font-size="6" fill="#333" font-family="Liberation Serif" text-anchor="middle">5</text>
<circle cx="253.5" cy="862.5" r="4.3" fill="#fff" stroke="#444" stroke-width="0.7"/>
<text x="253.5" y="864.6" font-size="6" fill="#333" font-family="Liberation Serif" text-anchor="middle">4</text>
<line x1="334.5" y1="846" x2="330" y2="862" stroke="#7a9a5a" stroke-width="2.2"/><line x1="334.5" y1="846" x2="330" y2="862" stroke="#b7d48c" stroke-width="1.0"/><circle cx="330" cy="862" r="6.2" fill="#bcd796" stroke="#6d8c52" stroke-width="0.7"/><path d="M334.5 820 C332.5 814 332.5 809 337.5 808.7 L343.5 808.7 C345.5 809 346.5 811 348.0 811 C349.5 811 351.5 809 354.5 808.7 L360.5 808.7 C364.5 809 364.5 814 362.5 820 C365.5 828 367.0 836 366.5 843 C365.5 850 359.5 853.5 349.0 854 C337.5 854 330.5 850 330.0 843 C329.5 836 331.5 828 334.5 820 Z" fill="#bcd796" stroke="#62824a" stroke-width="0.7"/><path d="M342.0 809 C343.0 815 345.0 819 346.0 822 L350.0 822 C351.0 819 353.0 815 354.0 809 Z" fill="#e6f0d4" stroke="#62824a" stroke-width="0.5"/><path d="M337.5 837 C337.5 826 343.0 821 348.0 821 C353.0 821 358.5 826 358.5 837 C358.5 846 354.0 851 348.0 851 C342.0 851 337.5 846 337.5 837 Z" fill="url(#gGreen)" stroke="#62824a" stroke-width="0.6"/><path d="M348.0 821.5 C351.0 832 346.0 842 348.5 851" stroke="#62824a" stroke-width="0.6" fill="none"/><path d="M350.0 852 C356.0 853 361.5 850 363.5 845" stroke="#62824a" stroke-width="0.5" fill="none"/>
<path d="M380 820 C378 814 378 809 383 808.7 L388.0 808.7 C390.0 809 391.0 811 392.5 811 C394.0 811 396.0 809 399.0 808.7 L404 808.7 C408 809 408 814 406 820 C409 828 410.5 836 410 843 C409 850 403 853.5 393.5 854 C383 854 376 850 375.5 843 C375 836 377 828 380 820 Z" fill="#f3bca8" stroke="#8a5848" stroke-width="0.7"/><path d="M386.5 809 C387.5 815 389.5 819 390.5 822 L394.5 822 C395.5 819 397.5 815 398.5 809 Z" fill="#f8ddd0" stroke="#8a5848" stroke-width="0.5"/><path d="M382.0 837 C382.0 826 387.5 821 392.5 821 C397.5 821 403.0 826 403.0 837 C403.0 846 398.5 851 392.5 851 C386.5 851 382.0 846 382.0 837 Z" fill="url(#gRed)" stroke="#8a5848" stroke-width="0.6"/><path d="M392.5 821.5 C395.5 832 390.5 842 393.0 851" stroke="#8a5848" stroke-width="0.6" fill="none"/><path d="M394.5 852 C400.5 853 405 850 407 845" stroke="#8a5848" stroke-width="0.5" fill="none"/>
<circle cx="340.5" cy="795" r="2.9" fill="#7c2c5a"/>
<circle cx="380.5" cy="793.7" r="2.9" fill="#7e3a1e"/><circle cx="395" cy="795" r="2.9" fill="#7e3a1e"/><circle cx="389" cy="799.5" r="2.9" fill="#7e3a1e"/><circle cx="402" cy="798" r="2.9" fill="#7e3a1e"/>
<circle cx="350" cy="857.9" r="2.9" fill="#7c2c5a"/><circle cx="360.4" cy="855.4" r="2.9" fill="#7c2c5a"/><circle cx="359.5" cy="865.3" r="2.9" fill="#7c2c5a"/>
<circle cx="380.5" cy="859.1" r="2.9" fill="#7e3a1e"/>
<line x1="430.8" y1="664.5" x2="430.8" y2="884" stroke="#6a6a6a" stroke-width="1.5"/>
<rect x="308.7" y="883.4" width="481.59999999999997" height="270.0000000000001" fill="#62b0f2"/>
<text x="422.6" y="921" font-size="21.6" fill="#fff" stroke="#fff" stroke-width="0.05" font-family="Liberation Sans" letter-spacing="0.75">Aktionspotential Phasen</text>
<clipPath id="pc332953"><rect x="332.2" y="953.6" width="106.5" height="66.69999999999993" rx="8"/></clipPath><g clip-path="url(#pc332953)"><rect x="332.2" y="953.6" width="106.5" height="66.69999999999993" fill="#bfe0e8"/><rect x="332.2" y="953.6" width="106.5" height="24.0" fill="#c7dbf0"/><rect x="332.2" y="977.6" width="106.5" height="22.0" fill="#fbe0d6"/></g><g fill="#c8324e"><circle cx="335.7" cy="977.6" r="1.3"/><circle cx="343.7" cy="977.6" r="1.3"/><circle cx="351.7" cy="977.6" r="1.3"/><circle cx="359.7" cy="977.6" r="1.3"/><circle cx="367.7" cy="977.6" r="1.3"/><circle cx="375.7" cy="977.6" r="1.3"/><circle cx="383.7" cy="977.6" r="1.3"/><circle cx="391.7" cy="977.6" r="1.3"/><circle cx="399.7" cy="977.6" r="1.3"/><circle cx="407.7" cy="977.6" r="1.3"/><circle cx="415.7" cy="977.6" r="1.3"/><circle cx="423.7" cy="977.6" r="1.3"/><circle cx="431.7" cy="977.6" r="1.3"/></g><g fill="#6f7a86"><circle cx="335.7" cy="999.6" r="1.1"/><circle cx="343.7" cy="999.6" r="1.1"/><circle cx="351.7" cy="999.6" r="1.1"/><circle cx="359.7" cy="999.6" r="1.1"/><circle cx="367.7" cy="999.6" r="1.1"/><circle cx="375.7" cy="999.6" r="1.1"/><circle cx="383.7" cy="999.6" r="1.1"/><circle cx="391.7" cy="999.6" r="1.1"/><circle cx="399.7" cy="999.6" r="1.1"/><circle cx="407.7" cy="999.6" r="1.1"/><circle cx="415.7" cy="999.6" r="1.1"/><circle cx="423.7" cy="999.6" r="1.1"/><circle cx="431.7" cy="999.6" r="1.1"/></g>
<clipPath id="pc501953"><rect x="501.8" y="953.6" width="106.49999999999994" height="66.69999999999993" rx="8"/></clipPath><g clip-path="url(#pc501953)"><rect x="501.8" y="953.6" width="106.49999999999994" height="66.69999999999993" fill="#bfe0e8"/><rect x="501.8" y="953.6" width="106.49999999999994" height="24.0" fill="#c7dbf0"/><rect x="501.8" y="977.6" width="106.49999999999994" height="21.699999999999932" fill="#fbe0d6"/></g><g fill="#c8324e"><circle cx="505.3" cy="977.6" r="1.3"/><circle cx="513.3" cy="977.6" r="1.3"/><circle cx="521.3" cy="977.6" r="1.3"/><circle cx="529.3" cy="977.6" r="1.3"/><circle cx="537.3" cy="977.6" r="1.3"/><circle cx="545.3" cy="977.6" r="1.3"/><circle cx="553.3" cy="977.6" r="1.3"/><circle cx="561.3" cy="977.6" r="1.3"/><circle cx="569.3" cy="977.6" r="1.3"/><circle cx="577.3" cy="977.6" r="1.3"/><circle cx="585.3" cy="977.6" r="1.3"/><circle cx="593.3" cy="977.6" r="1.3"/><circle cx="601.3" cy="977.6" r="1.3"/></g><g fill="#6f7a86"><circle cx="505.3" cy="999.3" r="1.1"/><circle cx="513.3" cy="999.3" r="1.1"/><circle cx="521.3" cy="999.3" r="1.1"/><circle cx="529.3" cy="999.3" r="1.1"/><circle cx="537.3" cy="999.3" r="1.1"/><circle cx="545.3" cy="999.3" r="1.1"/><circle cx="553.3" cy="999.3" r="1.1"/><circle cx="561.3" cy="999.3" r="1.1"/><circle cx="569.3" cy="999.3" r="1.1"/><circle cx="577.3" cy="999.3" r="1.1"/><circle cx="585.3" cy="999.3" r="1.1"/><circle cx="593.3" cy="999.3" r="1.1"/><circle cx="601.3" cy="999.3" r="1.1"/></g>
<clipPath id="pc658953"><rect x="658.2" y="953.6" width="106.5" height="66.69999999999993" rx="8"/></clipPath><g clip-path="url(#pc658953)"><rect x="658.2" y="953.6" width="106.5" height="66.69999999999993" fill="#bfe0e8"/><rect x="658.2" y="953.6" width="106.5" height="27.0" fill="#c7dbf0"/><rect x="658.2" y="980.6" width="106.5" height="18.199999999999932" fill="#fbe0d6"/></g><g fill="#5f5a6a"><circle cx="661.7" cy="980.6" r="1.3"/><circle cx="669.7" cy="980.6" r="1.3"/><circle cx="677.7" cy="980.6" r="1.3"/><circle cx="685.7" cy="980.6" r="1.3"/><circle cx="693.7" cy="980.6" r="1.3"/><circle cx="701.7" cy="980.6" r="1.3"/><circle cx="709.7" cy="980.6" r="1.3"/><circle cx="717.7" cy="980.6" r="1.3"/><circle cx="725.7" cy="980.6" r="1.3"/><circle cx="733.7" cy="980.6" r="1.3"/><circle cx="741.7" cy="980.6" r="1.3"/><circle cx="749.7" cy="980.6" r="1.3"/><circle cx="757.7" cy="980.6" r="1.3"/></g><g fill="#5f5a6a"><circle cx="661.7" cy="998.8" r="1.1"/><circle cx="669.7" cy="998.8" r="1.1"/><circle cx="677.7" cy="998.8" r="1.1"/><circle cx="685.7" cy="998.8" r="1.1"/><circle cx="693.7" cy="998.8" r="1.1"/><circle cx="701.7" cy="998.8" r="1.1"/><circle cx="709.7" cy="998.8" r="1.1"/><circle cx="717.7" cy="998.8" r="1.1"/><circle cx="725.7" cy="998.8" r="1.1"/><circle cx="733.7" cy="998.8" r="1.1"/><circle cx="741.7" cy="998.8" r="1.1"/><circle cx="749.7" cy="998.8" r="1.1"/><circle cx="757.7" cy="998.8" r="1.1"/></g>
<clipPath id="pc3311059"><rect x="331.8" y="1059" width="106.5" height="65.79999999999995" rx="8"/></clipPath><g clip-path="url(#pc3311059)"><rect x="331.8" y="1059" width="106.5" height="65.79999999999995" fill="#bfe0e8"/><rect x="331.8" y="1059" width="106.5" height="25.799999999999955" fill="#c7dbf0"/><rect x="331.8" y="1084.8" width="106.5" height="19.40000000000009" fill="#fbe0d6"/></g><g fill="#c8324e"><circle cx="335.3" cy="1084.8" r="1.3"/><circle cx="343.3" cy="1084.8" r="1.3"/><circle cx="351.3" cy="1084.8" r="1.3"/><circle cx="359.3" cy="1084.8" r="1.3"/><circle cx="367.3" cy="1084.8" r="1.3"/><circle cx="375.3" cy="1084.8" r="1.3"/><circle cx="383.3" cy="1084.8" r="1.3"/><circle cx="391.3" cy="1084.8" r="1.3"/><circle cx="399.3" cy="1084.8" r="1.3"/><circle cx="407.3" cy="1084.8" r="1.3"/><circle cx="415.3" cy="1084.8" r="1.3"/><circle cx="423.3" cy="1084.8" r="1.3"/><circle cx="431.3" cy="1084.8" r="1.3"/></g><g fill="#6f7a86"><circle cx="335.3" cy="1104.2" r="1.1"/><circle cx="343.3" cy="1104.2" r="1.1"/><circle cx="351.3" cy="1104.2" r="1.1"/><circle cx="359.3" cy="1104.2" r="1.1"/><circle cx="367.3" cy="1104.2" r="1.1"/><circle cx="375.3" cy="1104.2" r="1.1"/><circle cx="383.3" cy="1104.2" r="1.1"/><circle cx="391.3" cy="1104.2" r="1.1"/><circle cx="399.3" cy="1104.2" r="1.1"/><circle cx="407.3" cy="1104.2" r="1.1"/><circle cx="415.3" cy="1104.2" r="1.1"/><circle cx="423.3" cy="1104.2" r="1.1"/><circle cx="431.3" cy="1104.2" r="1.1"/></g>
<clipPath id="pc6581061"><rect x="658.2" y="1061.2" width="106.5" height="64.20000000000005" rx="8"/></clipPath><g clip-path="url(#pc6581061)"><rect x="658.2" y="1061.2" width="106.5" height="64.20000000000005" fill="#bfe0e8"/><rect x="658.2" y="1061.2" width="106.5" height="25.0" fill="#c7dbf0"/><rect x="658.2" y="1086.2" width="106.5" height="19.399999999999864" fill="#fbe0d6"/></g><g fill="#c8324e"><circle cx="661.7" cy="1086.2" r="1.3"/><circle cx="669.7" cy="1086.2" r="1.3"/><circle cx="677.7" cy="1086.2" r="1.3"/><circle cx="685.7" cy="1086.2" r="1.3"/><circle cx="693.7" cy="1086.2" r="1.3"/><circle cx="701.7" cy="1086.2" r="1.3"/><circle cx="709.7" cy="1086.2" r="1.3"/><circle cx="717.7" cy="1086.2" r="1.3"/><circle cx="725.7" cy="1086.2" r="1.3"/><circle cx="733.7" cy="1086.2" r="1.3"/><circle cx="741.7" cy="1086.2" r="1.3"/><circle cx="749.7" cy="1086.2" r="1.3"/><circle cx="757.7" cy="1086.2" r="1.3"/></g><g fill="#6f7a86"><circle cx="661.7" cy="1105.6" r="1.1"/><circle cx="669.7" cy="1105.6" r="1.1"/><circle cx="677.7" cy="1105.6" r="1.1"/><circle cx="685.7" cy="1105.6" r="1.1"/><circle cx="693.7" cy="1105.6" r="1.1"/><circle cx="701.7" cy="1105.6" r="1.1"/><circle cx="709.7" cy="1105.6" r="1.1"/><circle cx="717.7" cy="1105.6" r="1.1"/><circle cx="725.7" cy="1105.6" r="1.1"/><circle cx="733.7" cy="1105.6" r="1.1"/><circle cx="741.7" cy="1105.6" r="1.1"/><circle cx="749.7" cy="1105.6" r="1.1"/><circle cx="757.7" cy="1105.6" r="1.1"/></g>
<rect x="354.7" y="979.8" width="11.2" height="19.600000000000023" fill="#8a35b8"/><rect x="357.7" y="979.8" width="5" height="19.600000000000023" fill="#a452d0" opacity="0.8"/><rect x="407.0" y="979.8" width="11.2" height="19.600000000000023" fill="#8a35b8"/><rect x="410.0" y="979.8" width="5" height="19.600000000000023" fill="#a452d0" opacity="0.8"/><rect x="380.8" y="979.8" width="11.2" height="19.600000000000023" fill="#1d3b6e"/><rect x="384.8" y="979.8" width="3.5" height="19.600000000000023" fill="#3a5c92" opacity="0.8"/>
<rect x="523.0" y="979.5" width="11.2" height="19.299999999999955" fill="#8a35b8"/><rect x="526.0" y="979.5" width="5" height="19.299999999999955" fill="#a452d0" opacity="0.8"/><rect x="575.8" y="979.5" width="11.2" height="19.299999999999955" fill="#8a35b8"/><rect x="578.8" y="979.5" width="5" height="19.299999999999955" fill="#a452d0" opacity="0.8"/><rect x="550.0" y="979.5" width="11.2" height="19.299999999999955" fill="#1d3b6e"/><rect x="554.0" y="979.5" width="3.5" height="19.299999999999955" fill="#3a5c92" opacity="0.8"/>
<rect x="679.6" y="979.6" width="11.2" height="19.399999999999977" fill="#8a35b8"/><rect x="682.6" y="979.6" width="5" height="19.399999999999977" fill="#a452d0" opacity="0.8"/><rect x="732.4" y="979.6" width="11.2" height="19.399999999999977" fill="#8a35b8"/><rect x="735.4" y="979.6" width="5" height="19.399999999999977" fill="#a452d0" opacity="0.8"/><rect x="706.0" y="979.6" width="11.2" height="19.399999999999977" fill="#1d3b6e"/><rect x="710.0" y="979.6" width="3.5" height="19.399999999999977" fill="#3a5c92" opacity="0.8"/>
<rect x="353.2" y="1085.0" width="11.2" height="19.200000000000045" fill="#8a35b8"/><rect x="356.2" y="1085.0" width="5" height="19.200000000000045" fill="#a452d0" opacity="0.8"/><rect x="406.2" y="1085.0" width="11.2" height="19.200000000000045" fill="#8a35b8"/><rect x="409.2" y="1085.0" width="5" height="19.200000000000045" fill="#a452d0" opacity="0.8"/><rect x="379.9" y="1085.0" width="11.2" height="19.200000000000045" fill="#1d3b6e"/><rect x="383.9" y="1085.0" width="3.5" height="19.200000000000045" fill="#3a5c92" opacity="0.8"/>
<rect x="680.0" y="1086.5" width="11.2" height="19.299999999999955" fill="#8a35b8"/><rect x="683.0" y="1086.5" width="5" height="19.299999999999955" fill="#a452d0" opacity="0.8"/><rect x="732.8" y="1086.5" width="11.2" height="19.299999999999955" fill="#8a35b8"/><rect x="735.8" y="1086.5" width="5" height="19.299999999999955" fill="#a452d0" opacity="0.8"/><rect x="706.0" y="1086.5" width="11.2" height="19.299999999999955" fill="#1d3b6e"/><rect x="710.0" y="1086.5" width="3.5" height="19.299999999999955" fill="#3a5c92" opacity="0.8"/>
<path d="M360.3 1004.5 L360.3 975 C360.3 970 357.3 968 352 966" stroke="#3fae3a" stroke-width="1.3" fill="none"/><path d="M360.3 975 C364.3 970 369.3 968 373.3 965 M368.3 965 L373.8 964.5 L372.3 970" stroke="#3fae3a" stroke-width="1.3" fill="none"/><circle cx="352" cy="966" r="4.6" fill="#3fae3a"/>
<path d="M385 1004 C382 1007 380 1010 377 1009 M377 1003 L374 1008 L379 1010" stroke="#f7cf1e" stroke-width="1.3" fill="none" opacity="0.7"/>
<circle cx="394.6" cy="1009.5" r="4.8" fill="#f7cf1e"/>
<path d="M388 1001 L392 1005" stroke="#f7cf1e" stroke-width="1.3"/>
<path d="M529 974 C526 985 522 995 526 1004 L521 1002 M526 1004 L529 999" stroke="#3fae3a" stroke-width="1.3" fill="none"/><circle cx="532" cy="966" r="4.6" fill="#3fae3a"/>
<path d="M581 978 C578 972 573 970 570 966 L575 968 M570 966 L570 972" stroke="#3fae3a" stroke-width="1.3" fill="none"/><circle cx="586.5" cy="966" r="4.6" fill="#3fae3a"/><path d="M582 980 L584 970" stroke="#3fae3a" stroke-width="1.3"/>
<path d="M556 982 L554.7 1003 L550.7 1012.5 M554.7 1003 L565 1010" stroke="#f7cf1e" stroke-width="1.3" fill="none"/><circle cx="569.6" cy="1012.5" r="4.8" fill="#f7cf1e"/>
<path d="M685 972 C682 980 684 990 685 1004 L681 1001 M685 1004 L689 1000" stroke="#3fae3a" stroke-width="1.3" fill="none"/><circle cx="688" cy="966" r="4.6" fill="#3fae3a"/>
<path d="M738 972 C735 980 737 990 738 1004 L734 1001 M738 1004 L742 1000" stroke="#3fae3a" stroke-width="1.3" fill="none"/><circle cx="741" cy="966" r="4.6" fill="#3fae3a"/>
<path d="M712 982 L710 1008 L707 1006 M712 1002 L718 1009" stroke="#f7cf1e" stroke-width="1.3" fill="none"/><circle cx="725.5" cy="1011" r="5" fill="#f7cf1e"/>
<path d="M359 1109 L359 1080 C356 1075 352 1072 350 1068 L354 1080 L349 1072" stroke="#3fae3a" stroke-width="1.3" fill="none" opacity="0.9"/><circle cx="363" cy="1070" r="5" fill="#3fae3a"/>
<path d="M412 1104 L412 1080 C409 1075 405 1072 403 1068 L407 1080 L402 1072" stroke="#3fae3a" stroke-width="1.3" fill="none" opacity="0.9"/><circle cx="416" cy="1070" r="5" fill="#3fae3a"/>
<path d="M385 1076 C384 1090 384 1100 388 1108 L393 1117" stroke="#f2e08a" stroke-width="1.6" fill="none"/><circle cx="385" cy="1074" r="3" fill="#f2e08a"/><circle cx="396.5" cy="1117.6" r="5.3" fill="#f7cf1e"/>
<path d="M680 1077 C684 1080 686 1083 689 1082 M689 1082 L694 1072" stroke="#a8d890" stroke-width="1.3" fill="none"/><circle cx="697" cy="1073" r="4.6" fill="#b8e0a0"/>
<path d="M733 1077 C737 1080 739 1083 742 1082 M742 1082 L747 1072" stroke="#a8d890" stroke-width="1.3" fill="none"/><circle cx="750" cy="1073" r="4.6" fill="#b8e0a0"/>
<path d="M711 1076 C710 1090 710 1100 715 1108 L724 1118" stroke="#f7cf1e" stroke-width="1.6" fill="none"/><circle cx="711" cy="1075" r="3" fill="#f2e08a"/><circle cx="725.5" cy="1119" r="5.3" fill="#f7cf1e"/>
<circle cx="333.7" cy="960.2" r="12.3" fill="#2d6fb2"/><text x="333.7" y="965.5" font-size="15" fill="#fff" font-family="Liberation Sans" text-anchor="middle">1</text>
<circle cx="503.7" cy="960.5" r="12.3" fill="#2d6fb2"/><text x="503.7" y="965.8" font-size="15" fill="#fff" font-family="Liberation Sans" text-anchor="middle">2</text>
<circle cx="658.4" cy="960.3" r="12.3" fill="#2d6fb2"/><text x="658.4" y="965.5999999999999" font-size="15" fill="#fff" font-family="Liberation Sans" text-anchor="middle">3</text>
<circle cx="333.5" cy="1063.4" r="12.3" fill="#2d6fb2"/><text x="333.5" y="1068.7" font-size="15" fill="#fff" font-family="Liberation Sans" text-anchor="middle">4</text>
<circle cx="660.9" cy="1066.6" r="12.3" fill="#2d6fb2"/><text x="660.9" y="1071.8999999999999" font-size="15" fill="#fff" font-family="Liberation Sans" text-anchor="middle">5</text>
<rect x="335.9" y="1021.8" width="99.20000000000005" height="16.0" rx="3" fill="#2d6fb2"/>
<text x="385.5" y="1034.3999999999999" font-size="13.5" fill="#fff" stroke="#fff" stroke-width="0.15" font-family="Liberation Sans" text-anchor="middle" letter-spacing="0.25">Ruhepotential</text>
<rect x="504.4" y="1022.8" width="99.0" height="15.700000000000045" rx="3" fill="#2d6fb2"/>
<text x="553.9" y="1035.1" font-size="13.5" fill="#fff" stroke="#fff" stroke-width="0.15" font-family="Liberation Sans" text-anchor="middle" letter-spacing="0.25">Depolarisation</text>
<rect x="652.6" y="1022" width="120.39999999999998" height="29.700000000000045" rx="3" fill="#2d6fb2"/>
<text x="712.8" y="1033.8" font-size="13.5" fill="#fff" stroke="#fff" stroke-width="0.15" font-family="Liberation Sans" text-anchor="middle" letter-spacing="0.25">Umpolarisierung</text>
<text x="712.8" y="1046.5" font-size="13.5" fill="#fff" stroke="#fff" stroke-width="0.15" font-family="Liberation Sans" text-anchor="middle" letter-spacing="0.25">(overshoot)</text>
<rect x="337" y="1126.2" width="99.89999999999998" height="17.799999999999955" rx="3" fill="#2d6fb2"/>
<text x="386.95" y="1140.6" font-size="13.5" fill="#fff" stroke="#fff" stroke-width="0.15" font-family="Liberation Sans" text-anchor="middle" letter-spacing="0.25">Repolarisation</text>
<rect x="650.6" y="1126.2" width="125.60000000000002" height="17.399999999999864" rx="3" fill="#2d6fb2"/>
<text x="713.4000000000001" y="1140.1999999999998" font-size="13.5" fill="#fff" stroke="#fff" stroke-width="0.15" font-family="Liberation Sans" text-anchor="middle" letter-spacing="0.25">Hyperpolarisation</text>
<text x="422.5" y="948" font-size="13" fill="#fff" stroke="#fff" stroke-width="0.25" font-family="Liberation Sans" letter-spacing="0.7" opacity="0.95">Zelläußeres</text>
<text x="533.3" y="949" font-size="13" fill="#fff" stroke="#fff" stroke-width="0.25" font-family="Liberation Sans" letter-spacing="0.9" opacity="0.95">Natrium</text>
<text x="442.6" y="993.8" font-size="13" fill="#fff" stroke="#fff" stroke-width="0.25" font-family="Liberation Sans" letter-spacing="0.6" opacity="0.95">Zellmem-</text>
<text x="442.6" y="1007" font-size="13" fill="#fff" stroke="#fff" stroke-width="0.25" font-family="Liberation Sans" letter-spacing="0.6" opacity="0.95">bran</text>
<text x="439.7" y="1050" font-size="13" fill="#fff" stroke="#fff" stroke-width="0.25" font-family="Liberation Sans" letter-spacing="0.55" opacity="0.95">Zellinneres</text>
<text x="611.6" y="1018" font-size="13" fill="#fff" stroke="#fff" stroke-width="0.25" font-family="Liberation Sans" letter-spacing="0.4" opacity="0.95">Kalium</text>
<line x1="440" y1="953" x2="427.0" y2="964.7" stroke="#2a67a6" stroke-width="2.2"/><path d="M425.5 966.0 L427.7 959.9 L431.8 964.5Z" fill="#2a67a6"/>
<line x1="441" y1="988.5" x2="427.5" y2="988.5" stroke="#2a67a6" stroke-width="2.2"/><path d="M425.5 988.5 L431.2 985.4 L431.2 991.6Z" fill="#2a67a6"/>
<line x1="447" y1="1028" x2="433.4" y2="1014.4" stroke="#2a67a6" stroke-width="2.2"/><path d="M432.0 1013.0 L438.2 1014.8 L433.8 1019.2Z" fill="#2a67a6"/>
<line x1="537" y1="951" x2="533.7" y2="959.1" stroke="#2a67a6" stroke-width="2.2"/><path d="M533.0 961.0 L532.2 954.5 L538.0 956.9Z" fill="#2a67a6"/>
<line x1="583" y1="951" x2="586.3" y2="959.1" stroke="#2a67a6" stroke-width="2.2"/><path d="M587.0 961.0 L582.0 956.9 L587.8 954.5Z" fill="#2a67a6"/>
<line x1="608" y1="1012" x2="576.0" y2="1012.0" stroke="#2a67a6" stroke-width="2.2"/><path d="M574.0 1012.0 L579.7 1008.9 L579.7 1015.1Z" fill="#2a67a6"/>
<path d="M443 969.7 L451 969.7 M447 965.7 L447 973.7" stroke="#d03040" stroke-width="1.6"/>
<path d="M444.5 1018 L451.5 1018" stroke="#d03040" stroke-width="1.6"/>
<path d="M610.8 974.5 L618.8 974.5 M614.8 970.5 L614.8 978.5" stroke="#d03040" stroke-width="1.6"/>
<path d="M612.5 996 L619.5 996" stroke="#d03040" stroke-width="1.6"/>
<path d="M767.9 975.4 L774.9 975.4" stroke="#d03040" stroke-width="1.6"/>
<path d="M767.4 1001.4 L775.4 1001.4 M771.4 997.4 L771.4 1005.4" stroke="#d03040" stroke-width="1.6"/>
<path d="M442.6 1076.9 L450.6 1076.9 M446.6 1072.9 L446.6 1080.9" stroke="#d03040" stroke-width="1.6"/>
<path d="M443.1 1104.5 L450.1 1104.5" stroke="#d03040" stroke-width="1.6"/>
<path d="M770.3 1083.6 L778.3 1083.6 M774.3 1079.6 L774.3 1087.6" stroke="#d03040" stroke-width="1.6"/>
<path d="M771.8 1102.4 L778.8 1102.4" stroke="#d03040" stroke-width="1.6"/>
<path d="M506.3 1067 L506.3 1134.2 L598 1134.2" stroke="#fff" stroke-width="1.6" fill="none"/>
<path d="M503.5 1069 L506.3 1063.5 L509.1 1069Z M596 1131.4 L601.5 1134.2 L596 1137Z" fill="#fff"/>
<path d="M507.3 1120.4 L519.6 1120.4 C523 1116 530 1116 535 1114.7 C539 1110 539 1075 542.6 1072.2 C546 1075 548 1118 551.5 1126 C553 1129 556 1129 558 1128 C566 1124 575 1121 583 1120.5 L595.6 1119.8" stroke="#2d6fb2" stroke-width="1.4" fill="none"/>
<circle cx="513.9" cy="1127.6" r="6" fill="#2d6fb2"/><text x="513.9" y="1130.8999999999999" font-size="9" fill="#fff" font-family="Liberation Sans" text-anchor="middle">1</text>
<circle cx="525.8" cy="1108" r="6" fill="#2d6fb2"/><text x="525.8" y="1111.3" font-size="9" fill="#fff" font-family="Liberation Sans" text-anchor="middle">2</text>
<circle cx="531.5" cy="1083.9" r="6" fill="#2d6fb2"/><text x="531.5" y="1087.2" font-size="9" fill="#fff" font-family="Liberation Sans" text-anchor="middle">3</text>
<circle cx="555.6" cy="1093.5" r="6" fill="#2d6fb2"/><text x="555.6" y="1096.8" font-size="9" fill="#fff" font-family="Liberation Sans" text-anchor="middle">4</text>
<circle cx="543.7" cy="1126.4" r="6" fill="#2d6fb2"/><text x="543.7" y="1129.7" font-size="9" fill="#fff" font-family="Liberation Sans" text-anchor="middle">5</text>
<circle cx="583.7" cy="1110.6" r="6" fill="#2d6fb2"/><text x="583.7" y="1113.8999999999999" font-size="9" fill="#fff" font-family="Liberation Sans" text-anchor="middle">1</text>
<path d="M597 970 C640 925 700 930 738 950" stroke="#3fae3a" stroke-width="1.4" fill="none"/><path d="M729 949 L739.5 953.6 L742 943" stroke="#3fae3a" stroke-width="1.4" fill="none"/>
<path transform="translate(568.6,862) rotate(0)" d="M 0.40 0.00 L 0.40 -20.06 L 8.05 0.00 L 8.05 -20.06 M 17.30 -9.44 C 16.10 -12.39 11.67 -12.39 11.27 -5.90 C 10.87 -0.59 15.29 1.18 17.30 -3.54 M 17.30 -11.80 L 17.71 0.00 M 22.54 -18.88 L 22.94 0.00 M 20.12 -11.80 L 25.75 -12.39 M 27.77 -11.80 L 28.01 0.00 M 27.85 -7.08 C 28.97 -11.80 31.39 -12.39 33.00 -11.21 M 35.82 -11.21 L 35.98 0.00 M 35.82 -16.52 L 35.82 -15.58 M 39.44 -11.80 L 39.44 -4.72 C 39.44 1.18 45.07 1.18 45.47 -4.72 M 45.47 -11.80 L 45.71 0.00 M 48.69 -11.80 L 48.69 0.00 M 48.69 -8.26 C 49.90 -12.98 53.12 -12.98 53.12 -7.08 L 53.12 0.00 M 53.12 -8.26 C 54.33 -12.98 57.55 -12.98 57.55 -7.08 L 57.55 0.00 M 61.17 -11.21 L 61.33 0.00 M 61.17 -16.52 L 61.17 -15.58 M 68.01 -11.80 C 64.79 -11.80 64.39 -5.90 64.79 -3.54 C 65.19 1.18 70.83 1.18 71.23 -4.72 C 71.63 -10.62 69.22 -12.39 68.01 -11.80 M 74.05 -11.80 L 74.05 0.00 M 74.05 -8.26 C 75.25 -12.98 80.08 -12.98 80.08 -7.08 L 80.08 0.00 M 83.30 -5.90 L 89.34 -6.49 C 89.34 -12.39 83.70 -12.98 83.30 -5.90 C 82.90 0.00 87.73 1.18 89.34 -1.77 M 92.15 -11.80 L 92.15 0.00 M 92.15 -8.26 C 93.36 -12.98 98.19 -12.98 98.19 -7.08 L 98.19 0.00" fill="none" stroke="#46b24a" stroke-width="1.25" stroke-linecap="round" stroke-linejoin="round" opacity="1"/>
<path transform="translate(567.8,887.5) rotate(0)" d="M 0.45 -16.15 L 0.45 0.00 M 9.03 -16.15 L 0.90 -6.65 L 9.03 0.00 M 18.52 -7.60 C 17.16 -9.97 12.19 -9.97 11.74 -4.75 C 11.29 -0.47 16.26 0.95 18.52 -2.85 M 18.52 -9.50 L 18.97 0.00 M 22.58 -16.15 L 22.76 0.00 M 27.10 -9.03 L 27.28 0.00 M 27.10 -13.30 L 27.10 -12.54 M 31.16 -9.50 L 31.16 -3.80 C 31.16 0.95 37.48 0.95 37.93 -3.80 M 37.93 -9.50 L 38.21 0.00 M 41.55 -9.50 L 41.55 0.00 M 41.55 -6.65 C 42.90 -10.45 46.51 -10.45 46.51 -5.70 L 46.51 0.00 M 46.51 -6.65 C 47.87 -10.45 51.48 -10.45 51.48 -5.70 L 51.48 0.00 M 55.55 -9.03 L 55.73 0.00 M 55.55 -13.30 L 55.55 -12.54 M 63.22 -9.50 C 59.61 -9.50 59.16 -4.75 59.61 -2.85 C 60.06 0.95 66.38 0.95 66.84 -3.80 C 67.29 -8.55 64.58 -9.97 63.22 -9.50 M 70.00 -9.50 L 70.00 0.00 M 70.00 -6.65 C 71.35 -10.45 76.77 -10.45 76.77 -5.70 L 76.77 0.00 M 80.38 -4.75 L 87.16 -5.22 C 87.16 -9.97 80.84 -10.45 80.38 -4.75 C 79.93 0.00 85.35 0.95 87.16 -1.42 M 90.32 -9.50 L 90.32 0.00 M 90.32 -6.65 C 91.67 -10.45 97.09 -10.45 97.09 -5.70 L 97.09 0.00" fill="none" stroke="#f2d422" stroke-width="1.25" stroke-linecap="round" stroke-linejoin="round" opacity="1"/>
<path transform="translate(693.3,918.5) rotate(-7)" d="M 0.36 -10.50 L 0.36 0.00 M 0.36 -7.35 C 1.43 -11.55 5.70 -11.55 5.70 -6.30 L 5.70 0.00 M 8.55 -5.25 L 13.89 -5.78 C 13.89 -11.03 8.91 -11.55 8.55 -5.25 C 8.19 0.00 12.47 1.05 13.89 -1.58 M 21.73 -8.40 C 20.31 -11.55 16.39 -10.50 16.39 -5.78 C 16.39 -1.05 20.31 -1.05 21.73 -4.20 M 21.73 -10.50 L 21.73 3.15 C 21.38 7.88 17.46 7.88 16.39 4.20 M 29.93 -8.40 C 28.86 -11.03 24.94 -11.03 24.58 -5.25 C 24.23 -0.53 28.14 1.05 29.93 -3.15 M 29.93 -10.50 L 30.28 0.00 M 34.56 -16.80 L 34.91 0.00 M 32.42 -10.50 L 37.41 -11.03 M 39.54 -9.97 L 39.69 0.00 M 39.54 -14.70 L 39.54 -13.86 M 42.39 -10.50 L 45.24 0.00 L 48.09 -10.50 M 50.59 -5.25 L 55.93 -5.78 C 55.93 -11.03 50.94 -11.55 50.59 -5.25 C 50.23 0.00 54.51 1.05 55.93 -1.58" fill="none" stroke="#46b24a" stroke-width="1.2" stroke-linecap="round" stroke-linejoin="round" opacity="1"/>
<path transform="translate(718.5,934) rotate(0)" d="M 0.30 0.00 L 0.30 -12.24 C 4.74 -12.60 5.92 -10.08 5.63 -8.28 C 5.33 -6.12 2.96 -5.76 0.59 -5.76 L 5.92 0.00 M 7.99 -7.20 L 7.99 -2.88 C 7.99 0.72 12.14 0.72 12.44 -2.88 M 12.44 -7.20 L 12.61 0.00 M 9.18 -10.08 L 9.18 -9.50 M 11.55 -10.08 L 11.55 -9.50 M 18.95 -6.12 C 17.47 -7.92 14.51 -7.20 14.51 -3.60 C 14.51 0.00 17.47 0.72 18.95 -1.08 M 21.02 -12.24 L 21.02 0.00 M 24.87 -7.20 L 21.32 -3.24 L 25.17 0.00 M 26.94 -12.24 L 26.94 0.00 M 30.79 -7.20 L 27.24 -3.24 L 31.09 0.00 M 35.23 -7.20 C 32.86 -7.20 32.57 -3.60 32.86 -2.16 C 33.16 0.72 37.31 0.72 37.60 -2.88 C 37.90 -6.48 36.12 -7.56 35.23 -7.20 M 39.67 -7.20 L 39.67 4.32 M 39.67 -4.32 C 40.27 -7.92 44.12 -7.92 44.12 -3.96 C 44.12 -0.36 40.56 0.36 39.67 -1.80 M 46.48 -7.20 L 46.48 4.32 M 46.48 -4.32 C 47.08 -7.92 50.93 -7.92 50.93 -3.96 C 50.93 -0.36 47.37 0.36 46.48 -1.80 M 53.59 -12.24 L 53.71 0.00 M 56.25 -7.20 L 56.25 -2.88 C 56.25 0.72 60.40 0.72 60.70 -2.88 M 60.70 -7.20 L 60.87 0.00 M 63.06 -7.20 L 63.06 0.00 M 63.06 -5.04 C 63.95 -7.92 67.51 -7.92 67.51 -4.32 L 67.51 0.00 M 74.32 -5.76 C 73.13 -7.92 69.87 -7.20 69.87 -3.96 C 69.87 -0.72 73.13 -0.72 74.32 -2.88 M 74.32 -7.20 L 74.32 2.16 C 74.02 5.40 70.76 5.40 69.87 2.88" fill="none" stroke="#46b24a" stroke-width="1.2" stroke-linecap="round" stroke-linejoin="round" opacity="1"/>
<path transform="translate(254.5,1080) rotate(0)" d="M 0.41 0.00 L 0.41 -17.34 L 8.23 0.00 L 8.23 -17.34 M 17.69 -8.16 C 16.46 -10.71 11.93 -10.71 11.52 -5.10 C 11.11 -0.51 15.63 1.02 17.69 -3.06 M 17.69 -10.20 L 18.10 0.00 M 20.57 -13.26 L 25.51 -13.26 M 23.04 -16.32 L 23.04 -10.20 M 27.56 -6.12 L 31.68 -6.12" fill="none" stroke="#46b24a" stroke-width="1.15" stroke-linecap="round" stroke-linejoin="round" opacity="1"/>
<path transform="translate(236.6,1097) rotate(0)" d="M 0.35 -13.09 L 0.35 0.00 M 6.99 -13.09 L 0.70 -5.39 L 6.99 0.00 M 14.33 -6.16 C 13.28 -8.09 9.44 -8.09 9.09 -3.85 C 8.74 -0.39 12.59 0.77 14.33 -2.31 M 14.33 -7.70 L 14.68 0.00 M 17.13 -7.70 L 17.13 0.00 M 17.13 -5.39 C 18.18 -8.47 22.37 -8.47 22.37 -4.62 L 22.37 0.00 M 30.41 -6.16 C 29.37 -8.09 25.52 -8.09 25.17 -3.85 C 24.82 -0.39 28.67 0.77 30.41 -2.31 M 30.41 -7.70 L 30.76 0.00 M 26.57 -10.78 L 26.57 -10.16 M 29.37 -10.78 L 29.37 -10.16 M 33.56 -13.09 L 33.70 0.00 M 36.71 -3.85 L 41.95 -4.24 C 41.95 -8.09 37.06 -8.47 36.71 -3.85 C 36.36 0.00 40.55 0.77 41.95 -1.16" fill="none" stroke="#46b24a" stroke-width="1.15" stroke-linecap="round" stroke-linejoin="round" opacity="1"/>
<path transform="translate(222.6,1117) rotate(0)" d="M 0.31 0.00 L 0.31 -14.96 C 4.90 -15.40 6.12 -12.32 5.82 -10.12 C 5.51 -7.48 3.06 -7.04 0.61 -7.04 L 6.12 0.00 M 8.27 -4.40 L 12.86 -4.84 C 12.86 -9.24 8.58 -9.68 8.27 -4.40 C 7.96 0.00 11.64 0.88 12.86 -1.32 M 18.68 -14.08 C 16.84 -15.40 15.93 -12.32 15.93 -8.80 L 16.05 3.52 M 14.39 -7.92 L 18.07 -8.36 M 20.21 -8.80 L 20.40 0.00 M 20.27 -5.28 C 21.13 -8.80 22.97 -9.24 24.19 -8.36 M 30.63 -7.04 C 29.71 -9.24 26.34 -9.24 26.03 -4.40 C 25.73 -0.44 29.09 0.88 30.63 -2.64 M 30.63 -8.80 L 30.93 0.00 M 27.26 -12.32 L 27.26 -11.62 M 29.71 -12.32 L 29.71 -11.62 M 33.08 -14.96 L 33.08 0.00 M 37.06 -8.80 L 33.38 -3.96 L 37.36 0.00 M 40.73 -14.08 L 41.04 0.00 M 38.89 -8.80 L 43.18 -9.24 M 44.71 -4.40 L 49.31 -4.84 C 49.31 -9.24 45.02 -9.68 44.71 -4.40 C 44.41 0.00 48.08 0.88 49.31 -1.32 M 51.45 -8.80 L 51.63 0.00 M 51.51 -5.28 C 52.37 -8.80 54.21 -9.24 55.43 -8.36 M 57.27 -8.80 L 61.86 -8.80 L 57.27 0.00 L 62.17 0.00 M 64.31 -4.40 L 68.91 -4.84 C 68.91 -9.24 64.62 -9.68 64.31 -4.40 C 64.01 0.00 67.68 0.88 68.91 -1.32 M 71.36 -8.36 L 71.48 0.00 M 71.36 -12.32 L 71.36 -11.62 M 75.64 -14.08 L 75.95 0.00 M 73.81 -8.80 L 78.09 -9.24" fill="none" stroke="#46b24a" stroke-width="1.15" stroke-linecap="round" stroke-linejoin="round" opacity="1"/>
<path transform="translate(608.5,1087) rotate(-47)" d="M 0.69 -6.84 L 0.82 0.00 M 0.69 -10.08 L 0.69 -9.50 M 3.77 -7.20 L 3.77 0.00 M 3.77 -5.04 C 4.80 -7.92 7.54 -7.92 7.54 -4.32 L 7.54 0.00 M 7.54 -5.04 C 8.56 -7.92 11.31 -7.92 11.31 -4.32 L 11.31 0.00 M 14.05 -7.20 L 14.05 0.00 M 14.05 -5.04 C 15.07 -7.92 17.81 -7.92 17.81 -4.32 L 17.81 0.00 M 17.81 -5.04 C 18.84 -7.92 21.58 -7.92 21.58 -4.32 L 21.58 0.00 M 24.32 -3.60 L 29.46 -3.96 C 29.46 -7.56 24.67 -7.92 24.32 -3.60 C 23.98 0.00 28.09 0.72 29.46 -1.08 M 31.86 -7.20 L 32.07 0.00 M 31.93 -4.32 C 32.89 -7.20 34.94 -7.56 36.31 -6.84" fill="none" stroke="#f2d422" stroke-width="1.2" stroke-linecap="round" stroke-linejoin="round" opacity="1"/>
<path transform="translate(606,1117.6) rotate(-46)" d="M 0.40 -7.20 L 0.40 0.00 M 0.40 -5.04 C 1.61 -7.92 6.44 -7.92 6.44 -4.32 L 6.44 0.00 M 12.87 -7.20 C 9.66 -7.20 9.25 -3.60 9.66 -2.16 C 10.06 0.72 15.69 0.72 16.09 -2.88 C 16.49 -6.48 14.08 -7.56 12.87 -7.20 M 24.54 -6.12 C 22.53 -7.92 18.51 -7.20 18.51 -3.60 C 18.51 0.00 22.53 0.72 24.54 -1.08 M 27.36 -12.24 L 27.36 0.00 M 27.36 -4.32 C 28.56 -7.92 33.39 -7.92 33.39 -3.60 L 33.39 0.00" fill="none" stroke="#f2d422" stroke-width="1.2" stroke-linecap="round" stroke-linejoin="round" opacity="1"/>
<path transform="translate(614.4,1131) rotate(-51)" d="M 6.12 -5.60 C 4.59 -7.70 0.38 -7.00 0.38 -3.85 C 0.38 -0.70 4.59 -0.70 6.12 -2.80 M 6.12 -7.00 L 6.12 2.10 C 5.74 5.25 1.53 5.25 0.38 2.80 M 9.19 -3.50 L 14.93 -3.85 C 14.93 -7.35 9.57 -7.70 9.19 -3.50 C 8.80 0.00 13.40 0.70 14.93 -1.05 M 20.67 -7.00 C 17.60 -7.00 17.22 -3.50 17.60 -2.10 C 17.99 0.70 23.35 0.70 23.73 -2.80 C 24.11 -6.30 21.81 -7.35 20.67 -7.00 M 19.14 -9.80 L 19.14 -9.24 M 22.20 -9.80 L 22.20 -9.24 M 31.00 -11.20 C 28.70 -12.25 27.56 -9.80 27.56 -7.00 L 27.71 2.80 M 25.64 -6.30 L 30.23 -6.65 M 37.51 -11.20 C 35.21 -12.25 34.06 -9.80 34.06 -7.00 L 34.21 2.80 M 32.15 -6.30 L 36.74 -6.65 M 39.42 -7.00 L 39.42 0.00 M 39.42 -4.90 C 40.57 -7.70 45.16 -7.70 45.16 -4.20 L 45.16 0.00 M 48.22 -3.50 L 53.96 -3.85 C 53.96 -7.35 48.60 -7.70 48.22 -3.50 C 47.84 0.00 52.43 0.70 53.96 -1.05 M 58.56 -11.20 L 58.94 0.00 M 56.26 -7.00 L 61.62 -7.35" fill="none" stroke="#f2d422" stroke-width="1.2" stroke-linecap="round" stroke-linejoin="round" opacity="1"/>
<path d="M799.6 1131.5 C801 1127 810 1126.5 809.5 1132 C809 1135 805 1136.5 803.5 1136.6 C810 1136.5 815 1140 814.5 1143.5 C814 1149 804 1151 800 1144.5" stroke="#222" stroke-width="1.3" fill="none"/>
</svg>
</body></html>
